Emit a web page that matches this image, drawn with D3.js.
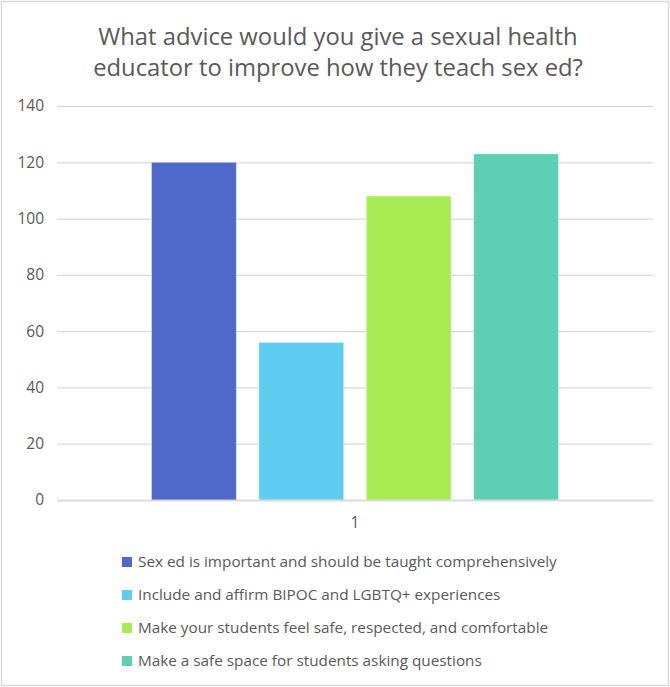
<!DOCTYPE html>
<html>
<head>
<meta charset="utf-8">
<script src="https://cdn.jsdelivr.net/npm/d3@7"></script>
<style>
  html, body { margin: 0; padding: 0; background: #fff; }
  svg { display: block; font-family: "Open Sans", Lato, sans-serif; }
</style>
</head>
<body>
<svg id="chart" width="670" height="687"></svg>
<script>
// Survey answers: one category, four responses
const titleLines = ["What advice would you give a sexual health", "educator to improve how they teach sex ed?"];
const categories = ["1"];
const seriesNames = [
  "Sex ed is important and should be taught comprehensively",
  "Include and affirm BIPOC and LGBTQ+ experiences",
  "Make your students feel safe, respected, and comfortable",
  "Make a safe space for students asking questions"
];
const seriesValues = [120, 56, 108, 123];
const seriesColors = ["#4f68c9", "#5fcdf2", "#a9eb52", "#5dcfb2"];
const yTicks = [0, 20, 40, 60, 80, 100, 120, 140];

const svg = d3.select("#chart");
const W = 670, H = 687;
const margin = { left: 57, right: 17, top: 106, bottom: 187 };
const plotW = W - margin.left - margin.right;
const plotH = H - margin.top - margin.bottom;

// outer chart frame
svg.append("rect")
  .attr("x", 1.5).attr("y", 1.5)
  .attr("width", W - 3).attr("height", H - 3)
  .attr("fill", "#fff").attr("stroke", "#d9d9d9").attr("stroke-width", 1.5);

// title
svg.append("g").selectAll("text").data(titleLines).join("text")
  .attr("x", 338).attr("y", (d, i) => 45 + i * 31)
  .attr("text-anchor", "middle")
  .attr("font-size", 23.8)
  .attr("fill", "#595959")
  .text(d => d);

const g = svg.append("g").attr("transform", `translate(${margin.left},${margin.top})`);

const y = d3.scaleLinear().domain([0, 140]).range([plotH, 0]);
const x0 = d3.scaleBand().domain(categories).range([0, plotW]);
const x1 = d3.scaleBand().domain(seriesNames).range([0, x0.bandwidth()])
  .paddingInner(0.21).paddingOuter(0.88);

// gridlines
const yAxis = d3.axisLeft(y).tickValues(yTicks).tickSize(-plotW).tickPadding(13);
const ya = g.append("g").call(yAxis);
ya.select(".domain").remove();
ya.selectAll(".tick line").attr("stroke", "#d9d9d9").attr("stroke-width", 1.3);
ya.selectAll(".tick text").attr("fill", "#595959").attr("font-size", 15.5)
  .attr("font-family", "\"Open Sans\", sans-serif");

// bars
const rows = seriesNames.map((name, i) => ({ name, value: seriesValues[i], color: seriesColors[i] }));
const grp = g.selectAll(".cat").data(categories).join("g")
  .attr("transform", d => `translate(${x0(d)},0)`);
grp.selectAll("rect").data(rows).join("rect")
  .attr("x", d => x1(d.name))
  .attr("y", d => y(d.value))
  .attr("width", x1.bandwidth())
  .attr("height", d => y(0) - y(d.value))
  .attr("fill", d => d.color)
  .attr("stroke", "#ffffff").attr("stroke-opacity", 0.5).attr("stroke-width", 0.8);

// category axis
const xAxis = d3.axisBottom(x0).tickSize(0).tickPadding(17);
const xa = g.append("g").attr("transform", `translate(0,${plotH})`).call(xAxis);
xa.select(".domain").attr("stroke", "#d9d9d9").attr("stroke-width", 1.3);
xa.selectAll(".tick text").attr("fill", "#595959").attr("font-size", 15.5)
  .attr("font-family", "\"Open Sans\", sans-serif");

// legend
const legend = svg.append("g").attr("transform", "translate(122,562)");
const li = legend.selectAll("g").data(rows).join("g")
  .attr("transform", (d, i) => `translate(0,${i * 33})`);
li.append("rect").attr("x", 0).attr("y", -5).attr("width", 10).attr("height", 10)
  .attr("fill", d => d.color);
li.append("text").attr("x", 16).attr("y", 0).attr("dy", "0.35em")
  .attr("font-size", 15.3).attr("fill", "#595959")
  .text(d => d.name);
</script>
</body>
</html>
